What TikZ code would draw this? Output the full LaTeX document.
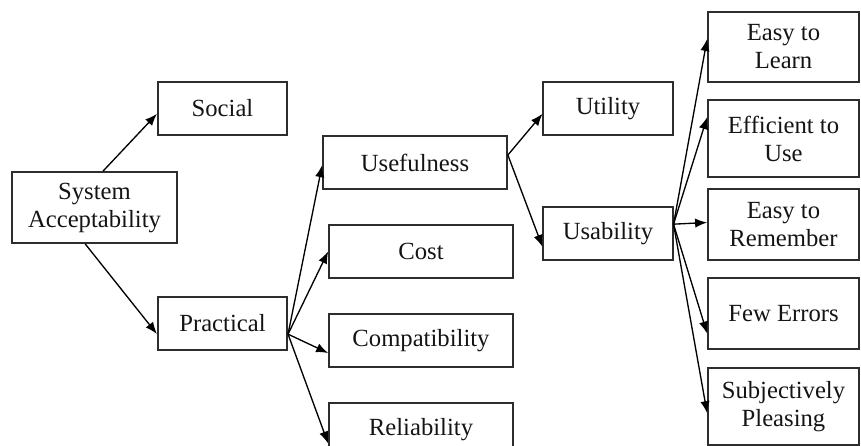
\documentclass[tikz,border=0pt]{standalone}
\usepackage{fontspec}
\setmainfont{Liberation Serif}
\usetikzlibrary{arrows.meta}

\tikzset{every picture/.style={line width=0.75pt}}
\tikzset{
  box/.style={draw={rgb,255:red,45;green,45;blue,45}, line width=1.3pt, inner sep=0.75pt, align=center,
    font=\fontsize{18.5}{21}\selectfont, text={rgb,255:red,20;green,20;blue,20}},
  wide/.style={box, minimum width=138pt, minimum height=39.75pt},
  narrow/.style={box, minimum width=97pt, minimum height=39.75pt},
  leaf/.style={box, minimum width=113.25pt},
  link/.style={-{Latex[length=9pt,width=7pt]}, line width=1pt}
}

\begin{document}
\begin{tikzpicture}[x=0.75pt,y=0.75pt,yscale=-1,xscale=1]
\useasboundingbox (0,0) rectangle (861,446);
% Boxes
\node [box, minimum width=123.75pt, minimum height=53.25pt] (sa) at (94.5,207.5) {System\\Acceptability};
\node [narrow] (social) at (222.5,108.5) {Social};
\node [narrow] (practical) at (222.5,323.5) {Practical};
\node [wide] (usefulness) at (415,162.5) {Usefulness};
\node [wide] (cost) at (421,251.5) {Cost};
\node [wide] (compat) at (421,340.5) {Compatibility};
\node [wide] (reliab) at (421,429.5) {Reliability};
\node [narrow] (utility) at (608,108.5) {Utility};
\node [narrow] (usability) at (608,233.5) {Usability};
\node [leaf, minimum height=52.5pt] (learn) at (783.5,47) {Easy to\\Learn};
\node [leaf, minimum height=57.75pt] (efficient) at (783.5,138.5) {Efficient to\\Use};
\node [leaf, minimum height=53.25pt] (remember) at (783.5,224.5) {Easy to\\Remember};
\node [leaf, minimum height=53.25pt] (errors) at (783.5,313.5) {Few Errors};
\node [leaf, minimum height=57.75pt] (pleasing) at (783.5,406.5) {Subjectively\\Pleasing};
% Arrows
\draw [link] ([xshift=6.4pt]sa.north) -- ([yshift=4pt]social.west);
\draw [link] ([xshift=-7pt]sa.south) -- ([yshift=7.9pt]practical.west);
\draw [link] ([yshift=8pt]practical.east) -- ([yshift=2pt]usefulness.west);
\draw [link] ([yshift=8pt]practical.east) -- (cost.west);
\draw [link] ([yshift=8pt]practical.east) -- ([yshift=9.4pt]compat.west);
\draw [link] ([yshift=8pt]practical.east) -- ([yshift=10.5pt]reliab.west);
\draw [link] ([yshift=-5.6pt]usefulness.east) -- ([yshift=4pt]utility.west);
\draw [link] ([yshift=-5.6pt]usefulness.east) -- ([yshift=10pt]usability.west);
\draw [link] ([yshift=-7pt]usability.east) -- ([yshift=-6pt]learn.west);
\draw [link] ([yshift=-7pt]usability.east) -- ([yshift=-16pt]efficient.west);
\draw [link] ([yshift=-7pt]usability.east) -- ([yshift=-1.5pt]remember.west);
\draw [link] ([yshift=-7pt]usability.east) -- ([yshift=15pt]errors.west);
\draw [link] ([yshift=-7pt]usability.east) -- ([yshift=5pt]pleasing.west);
\end{tikzpicture}
\end{document}
